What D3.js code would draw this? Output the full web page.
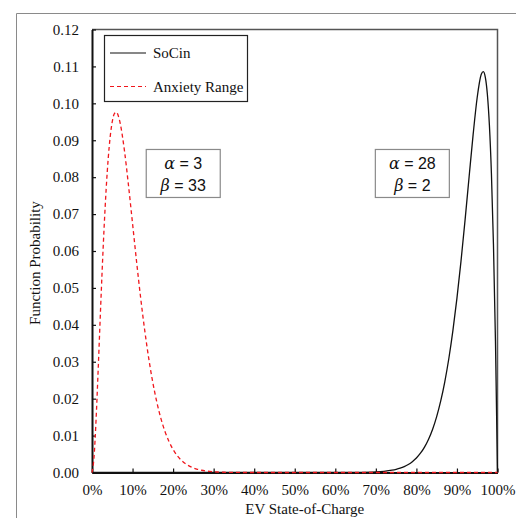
<!DOCTYPE html>
<html>
<head>
<meta charset="utf-8">
<script src="https://cdn.jsdelivr.net/npm/d3@7"></script>
<style>
  html, body { margin: 0; padding: 0; background: #fff; }
  svg { display: block; }
</style>
</head>
<body>
<svg id="chart" width="516" height="518"></svg>
<script>
// State-of-charge (fraction) and function probability for each curve
const socinX = [0, 0.60, 0.65, 0.70, 0.72, 0.74, 0.75, 0.76, 0.77, 0.78, 0.79, 0.80,
  0.81, 0.82, 0.83, 0.84, 0.85, 0.86, 0.87, 0.88, 0.89, 0.90, 0.91, 0.92, 0.93,
  0.94, 0.95, 0.96, 0.965, 0.97, 0.975, 0.98, 0.985, 0.99, 0.995, 1.0];
const socinY = [0, 0.000003, 0.000025, 0.00016, 0.00032, 0.00062, 0.00086, 0.00118,
  0.00161, 0.00218, 0.00294, 0.00393, 0.00522, 0.00688, 0.00902, 0.01173, 0.01514,
  0.01938, 0.02458, 0.03088, 0.03842, 0.04722, 0.05727, 0.06838, 0.08011, 0.09165,
  0.10165, 0.10788, 0.10861, 0.10704, 0.10247, 0.09412, 0.08099, 0.06190, 0.03546, 0];

const anxietyX = [0, 0.005, 0.01, 0.015, 0.02, 0.025, 0.03, 0.035, 0.04, 0.045, 0.05,
  0.055, 0.06, 0.065, 0.07, 0.08, 0.09, 0.10, 0.11, 0.12, 0.13, 0.14, 0.15, 0.16,
  0.17, 0.18, 0.19, 0.20, 0.21, 0.22, 0.23, 0.24, 0.25, 0.26, 0.27, 0.28, 0.29,
  0.30, 0.31, 0.32, 0.33, 0.34, 0.35, 0.40, 1.0];
const anxietyY = [0, 0.00418, 0.01424, 0.02724, 0.04115, 0.05459, 0.06668, 0.07692,
  0.08507, 0.09109, 0.09508, 0.09718, 0.09762, 0.09656, 0.09433, 0.08719, 0.07777,
  0.06743, 0.05705, 0.04730, 0.03853, 0.03086, 0.02437, 0.01899, 0.01461, 0.01111,
  0.00836, 0.00622, 0.00459, 0.00335, 0.00242, 0.00173, 0.00123, 0.00087, 0.00061,
  0.00042, 0.00029, 0.00020, 0.00013, 0.00009, 0.00006, 0.00004, 0.00002, 0, 0];

const seriesNames = ["SoCin", "Anxiety Range"];
const xTicks = [0, 0.1, 0.2, 0.3, 0.4, 0.5, 0.6, 0.7, 0.8, 0.9, 1.0];
const yTicks = [0, 0.01, 0.02, 0.03, 0.04, 0.05, 0.06, 0.07, 0.08, 0.09, 0.10, 0.11, 0.12];
const paramLabels = [
  { x: 0.225, y: 0.081, lines: [["α", "3"], ["β", "33"]] },
  { x: 0.79, y: 0.081, lines: [["α", "28"], ["β", "2"]] }
];

const svg = d3.select("#chart");
const serif = "'Liberation Serif', 'Times New Roman', serif";
const plotLeft = 92, plotRight = 497.5, plotTop = 29.5, plotBottom = 472.5;

const x = d3.scaleLinear().domain([0, 1]).range([plotLeft, plotRight]);
const y = d3.scaleLinear().domain([0, 0.12]).range([plotBottom, plotTop]);

// outer frame
svg.append("path")
  .attr("d", "M16.5,518 L16.5,13.5 L516,13.5")
  .attr("fill", "none").attr("stroke", "#8a8a8a").attr("stroke-width", 1);

// plot border (top and right)
svg.append("path")
  .attr("d", `M${plotLeft},${plotTop} L${plotRight},${plotTop} L${plotRight},${plotBottom}`)
  .attr("fill", "none").attr("stroke", "#555").attr("stroke-width", 1.5);

// axes with inward ticks
const xAxis = svg.append("g").attr("transform", `translate(0,${plotBottom})`)
  .call(d3.axisBottom(x).tickValues(xTicks).tickSize(-4).tickSizeOuter(0)
    .tickPadding(12).tickFormat(d3.format(".0%")));
const yAxis = svg.append("g").attr("transform", `translate(${plotLeft},0)`)
  .call(d3.axisLeft(y).tickValues(yTicks).tickSize(-4).tickSizeOuter(0)
    .tickPadding(13).tickFormat(d3.format(".2f")));

[xAxis, yAxis].forEach(g => {
  g.select(".domain").attr("stroke", "#111").attr("stroke-width", 2);
  g.selectAll(".tick line").attr("stroke", "#111").attr("stroke-width", 1.2);
  g.selectAll(".tick text").attr("fill", "#111")
    .style("font-family", serif).style("font-size", "15px");
});

// axis titles
svg.append("text").attr("x", (plotLeft + plotRight) / 2 + 10).attr("y", 514)
  .attr("text-anchor", "middle").attr("fill", "#111")
  .style("font-family", serif).style("font-size", "15px")
  .text("EV State-of-Charge");
svg.append("text")
  .attr("transform", `translate(40,${(plotTop + plotBottom) / 2 + 12}) rotate(-90)`)
  .attr("text-anchor", "middle").attr("fill", "#111")
  .style("font-family", serif).style("font-size", "15px")
  .text("Function Probability");

// curves
const line = d3.line().x(d => x(d[0])).y(d => y(d[1])).curve(d3.curveMonotoneX);
const socin = socinX.map((v, i) => [v, socinY[i]]);
const anxiety = anxietyX.map((v, i) => [v, anxietyY[i]]);

svg.append("path").datum(socin).attr("d", line)
  .attr("fill", "none").attr("stroke", "#111").attr("stroke-width", 1.3);
svg.append("path").datum(anxiety).attr("d", line)
  .attr("fill", "none").attr("stroke", "#f0161c").attr("stroke-width", 1.3)
  .attr("stroke-dasharray", "4,3");

// legend
const lg = svg.append("g");
lg.append("rect").attr("x", 104.5).attr("y", 35.5).attr("width", 143).attr("height", 66)
  .attr("fill", "#fff").attr("stroke", "#222").attr("stroke-width", 1.2);
seriesNames.forEach((name, i) => {
  const ly = 53 + i * 33.5;
  lg.append("line").attr("x1", 110).attr("x2", 146).attr("y1", ly).attr("y2", ly)
    .attr("stroke", i === 0 ? "#111" : "#f0161c").attr("stroke-width", 1.2)
    .attr("stroke-dasharray", i === 0 ? null : "4,3");
  lg.append("text").attr("x", 153).attr("y", ly + 5).attr("fill", "#111")
    .style("font-family", serif).style("font-size", "15px").text(name);
});

// parameter boxes
paramLabels.forEach(p => {
  const cx = x(p.x), cy = y(p.y);
  const g = svg.append("g");
  const w = 74;
  g.append("rect").attr("x", cx - w / 2).attr("y", cy - 24).attr("width", w).attr("height", 48)
    .attr("fill", "#fff").attr("stroke", "#8a8a8a").attr("stroke-width", 1.2);
  p.lines.forEach((ln, i) => {
    const t = g.append("text").attr("x", cx).attr("y", cy - 4 + i * 22)
      .attr("text-anchor", "middle").attr("fill", "#111")
      .style("font-family", "'DejaVu Serif', serif").style("font-size", "16px");
    t.append("tspan").style("font-style", "italic").text(ln[0]);
    t.append("tspan").style("font-family", "'Liberation Sans', sans-serif")
      .text(" = " + ln[1]);
  });
});
</script>
</body>
</html>
